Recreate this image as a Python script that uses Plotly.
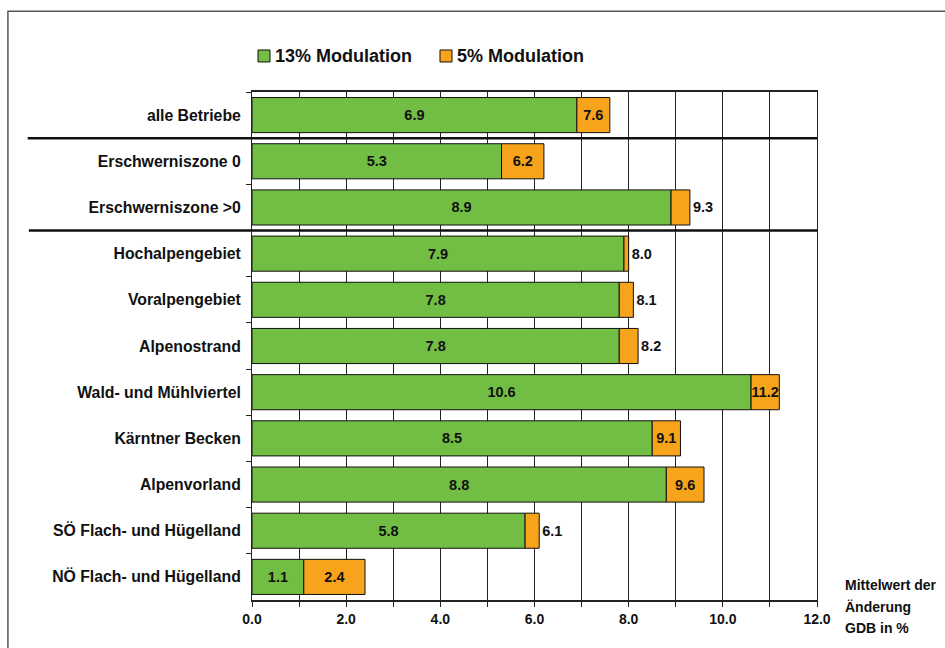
import plotly.graph_objects as go

categories = [
    "alle Betriebe",
    "Erschwerniszone 0",
    "Erschwerniszone >0",
    "Hochalpengebiet",
    "Voralpengebiet",
    "Alpenostrand",
    "Wald- und Mühlviertel",
    "Kärntner Becken",
    "Alpenvorland",
    "SÖ Flach- und Hügelland",
    "NÖ Flach- und Hügelland",
]
mod13 = [6.9, 5.3, 8.9, 7.9, 7.8, 7.8, 10.6, 8.5, 8.8, 5.8, 1.1]
mod5 = [7.6, 6.2, 9.3, 8.0, 8.1, 8.2, 11.2, 9.1, 9.6, 6.1, 2.4]
series_names = ["13% Modulation", "5% Modulation"]
axis_note = ["Mittelwert der", "Änderung", "GDB in %"]

GREEN = "#72BE44"
ORANGE = "#F8A31C"
INK = "#111"
FONT = "Liberation Sans, Arial, sans-serif"


def bold(size):
    return dict(family=FONT, size=size, color=INK, weight="bold")


# orange segment runs from the 13% value up to the 5% value
extra = [round(b - a, 2) for a, b in zip(mod13, mod5)]
orange_pos = ["inside" if e >= 0.5 else "outside" for e in extra]

fig = go.Figure()
fig.add_trace(go.Bar(
    y=categories, x=mod13, orientation="h", name=series_names[0],
    marker=dict(color=GREEN, line=dict(color=INK, width=1)),
    text=[f"{v:.1f}" for v in mod13], textposition="inside",
    insidetextanchor="middle", textangle=0, constraintext="none",
    textfont=bold(14.5), width=0.76, hoverinfo="skip",
))
fig.add_trace(go.Bar(
    y=categories, x=extra, base=mod13, orientation="h", name=series_names[1],
    marker=dict(color=ORANGE, line=dict(color=INK, width=1)),
    text=[f"{v:.1f}" for v in mod5], textposition=orange_pos,
    insidetextanchor="middle", textangle=0, constraintext="none",
    textfont=bold(14.5), cliponaxis=False, width=0.76, hoverinfo="skip",
))

fig.update_layout(
    barmode="overlay",
    width=945, height=648,
    margin=dict(l=252, r=128, t=92, b=48, autoexpand=False),
    paper_bgcolor="white", plot_bgcolor="white",
    font=bold(14),
    showlegend=False,
)

fig.update_xaxes(
    range=[0, 12], dtick=2, tickformat=".1f",
    showgrid=True, gridcolor="#222", gridwidth=1,
    minor=dict(dtick=1, showgrid=True, gridcolor="#222", gridwidth=1,
               ticks="outside", ticklen=5, tickcolor="#222"),
    ticks="outside", ticklen=5, tickcolor="#222",
    showline=True, linecolor="#222", linewidth=2, mirror=True,
    tickfont=bold(14), zeroline=False, fixedrange=True,
)
fig.update_yaxes(
    autorange="reversed", type="category",
    tickson="boundaries", ticks="outside", ticklen=5, tickcolor="#222",
    showgrid=False,
    showline=True, linecolor="#222", linewidth=1, mirror=True,
    tickfont=bold(15.8), ticklabelstandoff=7, fixedrange=True,
)

# group separators between the overall row, the zone rows and the regions
for yb, x0 in [(0.5, -0.397), (2.5, -0.395)]:
    fig.add_shape(type="line", xref="paper", yref="y", x0=x0, x1=1.0,
                  y0=yb, y1=yb, line=dict(color=INK, width=2.5))

# outer frame around the chart area
fig.add_shape(type="rect", xref="paper", yref="paper",
              x0=-0.432, x1=1.5, y0=-0.3, y1=1.159,
              line=dict(color="#555", width=1.5), layer="below")

# legend: colour key squares with their series names
for (sx0, sx1, tx), name, col in zip(
        [(0.0106, 0.0319, 0.037), (0.3327, 0.354, 0.359)], series_names, [GREEN, ORANGE]):
    fig.add_shape(type="rect", xref="paper", yref="paper",
                  x0=sx0, x1=sx1, y0=1.0591, y1=1.0827,
                  fillcolor=col, line=dict(color=INK, width=1))
    fig.add_annotation(xref="paper", yref="paper", x=tx, y=1.0709,
                       xanchor="left", yanchor="middle", showarrow=False,
                       text=name, font=bold(18))

# axis caption to the right of the value axis
for line, yp in zip(axis_note, [0.0295, -0.0138, -0.0551]):
    fig.add_annotation(xref="paper", yref="paper", x=1.046, y=yp,
                       xanchor="left", yanchor="middle", showarrow=False,
                       text=line, font=bold(14))

fig.write_html("out.html")
